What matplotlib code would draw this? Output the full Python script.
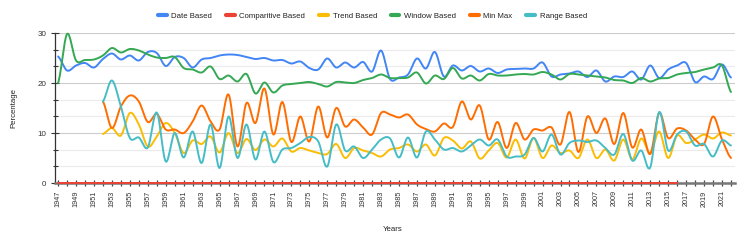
import matplotlib
matplotlib.use("Agg")
import matplotlib.pyplot as plt
from matplotlib.ticker import MultipleLocator, FixedLocator
from matplotlib.lines import Line2D
import numpy as np

plt.rcParams["font.family"] = ["Liberation Sans", "DejaVu Sans"]

years = list(range(1947, 2023))
pad = [None] * 5  # the last four series start in 1952

date_based = [25.3, 22.5, 23.5, 24.0, 23.1, 24.8, 25.9, 24.7, 25.5, 24.5, 26.2, 26.0, 23.4,
              25.2, 25.0, 23.1, 24.7, 25.0, 25.5, 25.7, 25.6, 25.2, 24.8, 25.0, 24.5, 24.6,
              23.9, 24.3, 23.0, 22.7, 24.9, 23.1, 24.1, 23.1, 24.2, 22.3, 26.5, 20.8,
              21.1, 21.7, 24.9, 22.9, 26.2, 21.3, 23.5, 22.5, 23.4, 22.3, 22.9, 22.0, 22.7,
              22.8, 22.9, 22.9, 24.1, 21.3, 21.7, 21.9, 22.3, 21.2, 22.5, 20.3, 21.3,
              21.2, 22.3, 20.7, 23.5, 21.0, 22.7, 23.5, 24.0, 20.2, 21.3, 20.8, 23.7, 21.1]

comparitive = [0] * 70 + [None] * 6

trend_based = pad + [9.8, 11.0, 9.5, 14.0, 11.7, 7.3, 9.3, 12.0,
                     10.0, 6.0, 8.5, 7.8, 9.3, 6.1, 10.0, 6.0, 8.8, 6.6, 8.7, 7.3, 8.9,
                     6.3, 7.0, 6.5, 6.0, 5.8, 7.8, 5.0, 7.0, 6.5, 6.0, 5.3, 6.7,
                     7.0, 7.7, 6.3, 7.7, 5.5, 9.0, 8.5, 6.9, 8.3, 4.9, 6.5, 8.0, 5.1,
                     8.7, 4.9, 9.0, 5.0, 7.5, 6.0, 6.5, 5.0, 8.7, 5.0, 6.7, 4.5,
                     8.7, 4.7, 8.9, 6.0, 10.3, 5.0, 9.5, 8.0, 8.7, 9.7, 8.9, 10.1, 9.5]

window_based = [20.0, 29.8, 24.5, 24.6, 24.7, 25.5, 27.0, 26.1, 26.8, 26.5, 25.7, 25.1, 25.0,
                25.2, 23.0, 22.7, 22.1, 23.3, 20.8, 21.5, 20.3, 21.8, 17.9, 20.1, 18.1, 19.5,
                19.8, 20.0, 20.2, 19.8, 19.3, 20.2, 20.1, 20.0, 20.6, 21.0, 21.7, 21.0,
                21.0, 21.1, 22.1, 19.9, 21.5, 20.8, 23.0, 20.9, 21.5, 20.5, 21.8, 21.5, 21.5,
                21.7, 21.8, 21.7, 22.2, 21.7, 20.7, 21.8, 21.7, 21.5, 21.3, 21.1, 20.6,
                20.5, 20.0, 21.0, 20.3, 20.9, 21.0, 21.7, 22.0, 22.2, 22.7, 23.1, 23.5, 18.2]

min_max = pad + [16.3, 11.0, 15.3, 17.5, 16.3, 12.2, 13.8, 10.7,
                 10.7, 10.0, 12.3, 15.5, 12.3, 10.7, 17.7, 7.3, 16.0, 12.0, 18.9, 9.7, 16.2,
                 8.2, 13.3, 8.3, 15.3, 9.1, 15.0, 11.3, 12.7, 11.1, 9.7, 14.0, 13.7,
                 13.1, 13.7, 11.7, 10.8, 10.3, 11.9, 11.2, 16.3, 12.7, 15.5, 8.7, 12.2, 7.0,
                 12.0, 8.7, 10.7, 10.5, 11.1, 7.7, 14.2, 6.2, 13.3, 10.0, 12.9, 7.8,
                 14.0, 7.1, 10.7, 5.8, 14.0, 9.0, 10.9, 10.5, 8.7, 7.8, 13.3, 8.7, 5.0]

range_based = pad + [16.3, 20.5, 15.3, 9.0, 9.1, 7.1, 14.1, 4.3,
                     10.0, 5.1, 10.3, 4.0, 11.7, 3.0, 13.3, 5.0, 11.7, 4.7, 10.3, 4.2, 6.7,
                     7.0, 8.0, 9.2, 8.3, 3.3, 11.7, 6.5, 7.3, 5.0, 6.7, 8.7, 8.9,
                     5.1, 9.1, 5.1, 10.3, 8.7, 6.7, 7.0, 6.3, 7.5, 8.7, 7.5, 8.7, 5.3,
                     5.3, 5.7, 9.0, 6.3, 9.7, 5.7, 8.0, 8.5, 8.2, 8.5, 7.0, 5.7,
                     9.8, 4.5, 6.5, 3.1, 14.2, 6.5, 9.7, 10.3, 7.5, 7.8, 5.3, 8.5, 7.5]

names = ["Date Based", "Comparitive Based", "Trend Based", "Window Based", "Min Max", "Range Based"]
colors = ["#4285f4", "#ea4335", "#fbbc04", "#34a853", "#ff6d01", "#46bdc6"]
series = [date_based, comparitive, trend_based, window_based, min_max, range_based]


def smooth(x, y, n=16):
    # catmull-rom style curve through the points, like the "smooth" option
    x = np.asarray(x, float)
    y = np.asarray(y, float)
    xs, ys = [], []
    t = np.linspace(0, 1, n, endpoint=False)
    h00 = 2 * t**3 - 3 * t**2 + 1
    h10 = t**3 - 2 * t**2 + t
    h01 = -2 * t**3 + 3 * t**2
    h11 = t**3 - t**2
    for i in range(len(x) - 1):
        y0 = y[i - 1] if i > 0 else y[i]
        y3 = y[i + 2] if i + 2 < len(y) else y[i + 1]
        m1 = (y[i + 1] - y0) / 2
        m2 = (y3 - y[i]) / 2
        xs.extend(x[i] + t * (x[i + 1] - x[i]))
        ys.extend(h00 * y[i] + h10 * m1 + h01 * y[i + 1] + h11 * m2)
    xs.append(x[-1])
    ys.append(y[-1])
    return np.array(xs), np.array(ys)


fig = plt.figure(figsize=(7.47, 2.42), dpi=100)
ax = fig.add_axes([54.5 / 747, 1 - 183 / 242, (735 - 54.5) / 747, 150 / 242])

for vals, c, name in zip(series, colors, names):
    xv = [yr for yr, v in zip(years, vals) if v is not None]
    yv = [v for v in vals if v is not None]
    sx, sy = smooth(xv, yv)
    ax.plot(sx, sy, color=c, lw=1.4, clip_on=False, zorder=4, solid_capstyle="round")

ax.set_xlim(1946.6, 2022.45)
ax.set_ylim(0, 30)

ax.yaxis.set_major_locator(MultipleLocator(10))
ax.yaxis.set_minor_locator(MultipleLocator(10 / 3))
ax.grid(True, which="major", axis="y", color="#cccccc", lw=0.8, zorder=0)
ax.grid(True, which="minor", axis="y", color="#ebebeb", lw=0.8, zorder=0)
ax.tick_params(axis="y", which="major", direction="inout", length=5.5, width=0.8,
               color="#333333", labelsize=5.8, labelcolor="#333333", pad=3)
ax.tick_params(axis="y", which="minor", direction="inout", length=3.6, width=0.8,
               color="#333333")

ax.xaxis.set_major_locator(FixedLocator(years[::2]))
ax.xaxis.set_minor_locator(FixedLocator(years[1::2]))
ax.set_xticklabels([str(y) for y in years[::2]], rotation=90, fontsize=5.2, color="#333333")
ax.tick_params(axis="x", which="both", direction="inout", length=4.5, width=0.9,
               color="#444444", pad=3)

for s in ["top", "right"]:
    ax.spines[s].set_visible(False)
ax.spines["left"].set_color("#333333")
ax.spines["left"].set_linewidth(0.9)
ax.spines["bottom"].set_color("#777777")
ax.spines["bottom"].set_linewidth(1.8)

ax.set_ylabel("Percentage", fontsize=5.6, color="#222222")
ax.yaxis.set_label_coords((17 - 54.5) / 680.5, 0.5)
ax.set_xlabel("Years", fontsize=5.6, color="#222222")
ax.xaxis.set_label_coords((393 - 54.5) / 680.5, (183 - 226) / 150)

handles = [Line2D([0], [0], color=c, lw=3, solid_capstyle="round") for c in colors]
fig.legend(handles, names, loc="center", bbox_to_anchor=(0.4987, 0.934), ncol=6,
           frameon=False, fontsize=5.6, handlelength=1.1, handletextpad=0.6,
           columnspacing=1.8, labelcolor="#222222")

fig.savefig("out.png", dpi=100)
